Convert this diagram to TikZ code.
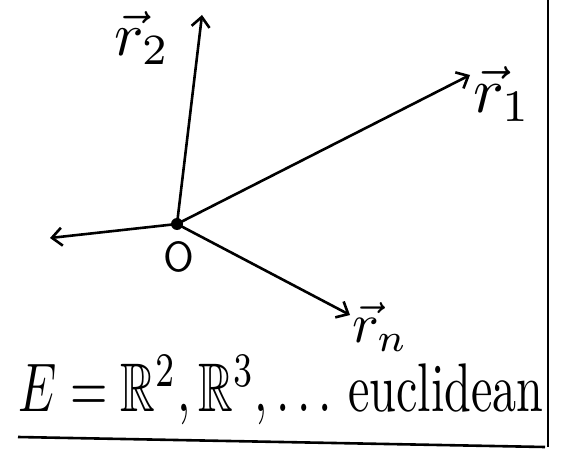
\documentclass[tikz,border=0pt]{standalone}
\usepackage{amssymb}
\usetikzlibrary{arrows.meta}
\begin{document}
\begin{tikzpicture}[x=1pt,y=-1pt,
  vec/.style={line width=2.6pt,-{Straight Barb[length=10pt,width=18pt,line width=2.6pt]}},
  lbl/.style={inner sep=0pt},
  rule/.style={line width=2.6pt}]
\useasboundingbox (0,0) rectangle (561,462);
\coordinate (O) at (177,224);
\coordinate (t2) at (202,15);
\coordinate (t1) at (470,75);
\coordinate (tl) at (50,238);
\coordinate (tn) at (350,315);
\draw[vec] (O) -- (t2);
\draw[vec] (O) -- (t1);
\draw[vec] (O) -- (tl);
\draw[vec] (O) -- (tn);
\fill (O) circle (6);
\node[lbl] (r2) at (142,38) {\resizebox{!}{44pt}{$\vec{r}_2$}};
\node[lbl] (r1) at (502,94) {\resizebox{!}{46pt}{$\vec{r}_1$}};
\node[lbl] (rn) at (380,327) {\resizebox{!}{40pt}{$\vec{r}_n$}};
\node[lbl] (o) at (179,257) {\resizebox{!}{30pt}{\sffamily O}};
\node[lbl] (eq) at (281,390) {\resizebox{525pt}{56pt}{$E=\mathbb{R}^2,\mathbb{R}^3,\dots$ euclidean}};
\coordinate (u1) at (18,437);
\coordinate (u2) at (545,447);
\draw[rule] (u1) -- (u2);
\coordinate (v1) at (548,0);
\coordinate (v2) at (548,447);
\draw[rule] (v1) -- (v2);
\end{tikzpicture}
\end{document}
